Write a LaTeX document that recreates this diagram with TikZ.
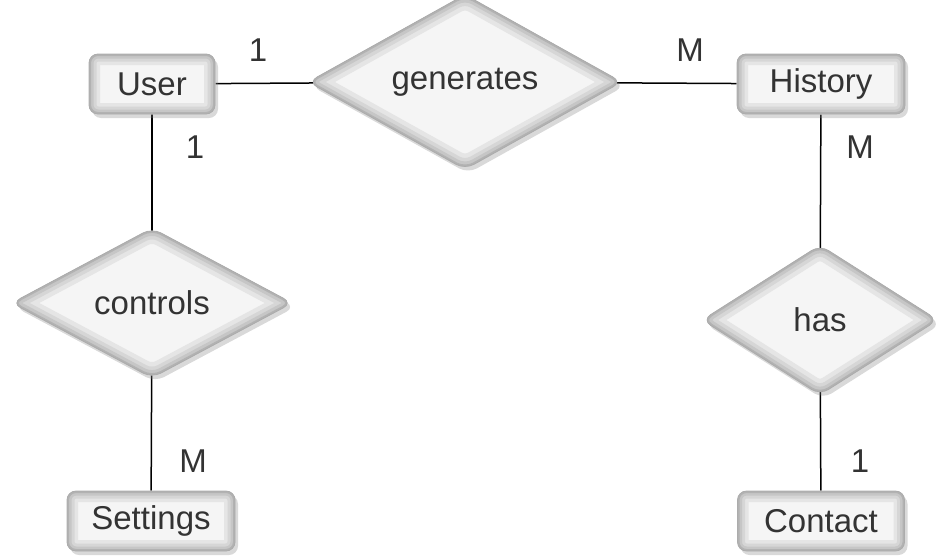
\documentclass[tikz,border=0pt]{standalone}
\usepackage{fontspec}
\setmainfont{Liberation Sans}
\usepackage{tikz}
\usetikzlibrary{shapes.geometric}
\usetikzlibrary{shadows}
\usetikzlibrary{backgrounds}

\tikzset{
		entity/.style={rectangle, rounded corners=9pt, fill=gray!8, draw=gray!65, line width=0.8pt,
				minimum width=#1, minimum height=60pt, inner sep=0pt, text=black!80,
				drop shadow={opacity=0.3, shadow xshift=3pt, shadow yshift=-4pt},
				path picture={
						\foreach \lw/\c in {22/20,15/32,9/45,4/60}{
								\draw[rounded corners=9pt, gray!\c, line width=\lw pt]
										(path picture bounding box.south west) rectangle (path picture bounding box.north east);
						}
				}},
		relation/.style={diamond, rounded corners=10pt, fill=gray!8, draw=gray!65, line width=0.8pt,
				inner sep=0pt, text=black!80,
				drop shadow={opacity=0.3, shadow xshift=3pt, shadow yshift=-4pt},
				path picture={
						\foreach \lw/\c in {26/20,17/32,10/45,4/60}{
								\draw[rounded corners=10pt, gray!\c, line width=\lw pt]
										(path picture bounding box.west) -- (path picture bounding box.north)
										-- (path picture bounding box.east) -- (path picture bounding box.south) -- cycle;
						}
				}},
		card/.style={inner sep=0pt, text=black!80},
		link/.style={line width=1.5pt, black}
}

\begin{document}
\begin{tikzpicture}[x=1pt, y=-1pt, font=\fontsize{33}{40}\selectfont]
		\useasboundingbox (0,0) rectangle (939,555);

		\begin{scope}
				\foreach \n/\x/\y/\w/\t in{
						user/152/84/126/User,
						history/821/84/168/History,
						settings/151/521/168/Settings,
						contact/821/521/167/Contact
				}{
				\node[entity=\w] (\n) at (\x,\y) {\t};
				}
		\end{scope}

		\begin{scope}
				\foreach \n/\x/\y/\w/\h/\t in{
						gen/465/82/314/145/generates,
						ctrl/152/303/281/150/controls,
						has/820/320/236/150/has
				}{
				\node[relation, minimum width=\w pt, minimum height=\h pt] (\n) at (\x,\y) {\t};
				}
		\end{scope}

		\begin{scope}[on background layer]
				\draw[link] (user) -- (gen.center);
				\draw[link] (gen.center) -- (history);
				\draw[link] (user) -- (ctrl.center);
				\draw[link] (ctrl.center) -- (settings);
				\draw[link] (history) -- (has.center);
				\draw[link] (has.center) -- (contact);
		\end{scope}

		\node[card] (c1) at (258,50) {1};
		\node[card] (c2) at (690,50) {M};
		\node[card] (c3) at (195,147) {1};
		\node[card] (c4) at (860,147) {M};
		\node[card] (c5) at (193,461) {M};
		\node[card] (c6) at (860,461) {1};
\end{tikzpicture}
\end{document}
